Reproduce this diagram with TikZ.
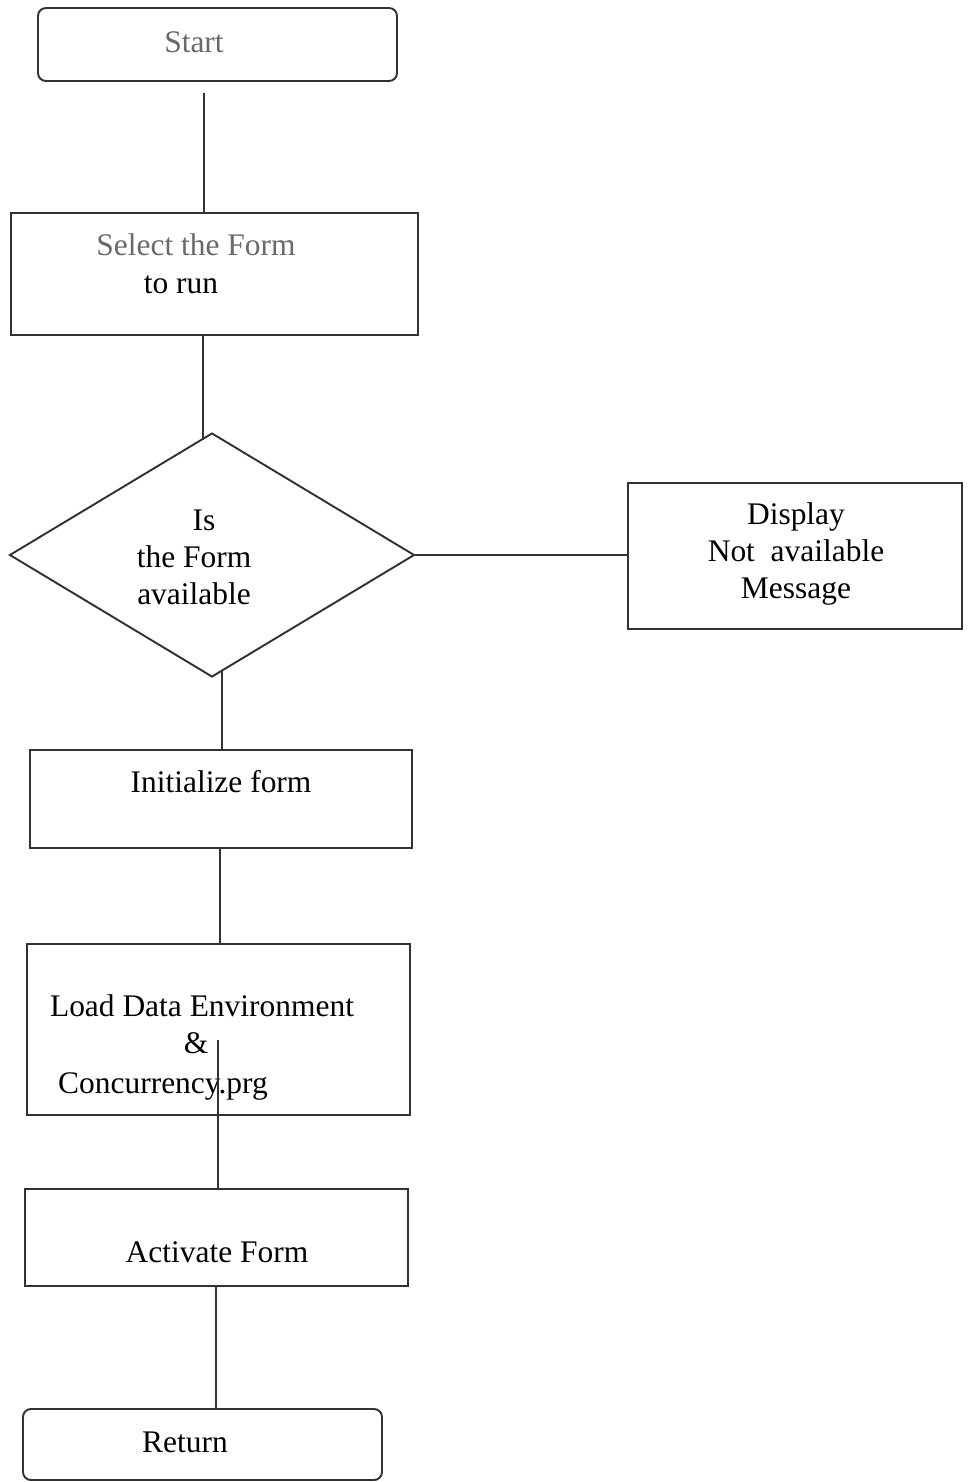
\documentclass[tikz,border=0pt]{standalone}
\usepackage{fontspec}
\setmainfont{Liberation Serif}
\usetikzlibrary{fit,shapes.geometric}
\definecolor{ink}{RGB}{50,50,50}
\definecolor{soft}{RGB}{105,105,105}
\begin{document}
\begin{tikzpicture}[x=0.02cm,y=-0.02cm,
  box/.style={draw=ink,line width=1.1pt,inner sep=0pt},
  term/.style={box,rounded corners=0.16cm},
  lbl/.style={anchor=base,inner sep=0pt,font=\fontsize{17.9pt}{21pt}\selectfont,text=black},
  flow/.style={draw=ink,line width=1.1pt}]
\useasboundingbox (0,0) rectangle (969,1482);

% boxes
\node[term,fit={(38,8) (397,81)}] (start) {};
\node[box,fit={(11,213) (418,335)}] (sel) {};
\node[draw=ink,line width=1.1pt,diamond,inner sep=0pt,
      minimum width=8.1cm,minimum height=4.88cm] (avail) at (212,555) {};
\node[box,fit={(628,483) (962,629)}] (msg) {};
\node[box,fit={(30,750) (412,848)}] (init) {};
\node[box,fit={(27,944) (410,1115)}] (load) {};
\node[box,fit={(25,1189) (408,1286)}] (act) {};
\node[term,fit={(23,1409) (382,1480)}] (ret) {};

% labels
\node[lbl,text=soft] (tstart) at (194,52) {Start};
\node[lbl,text=soft] (tsel1) at (196,255) {Select the Form};
\node[lbl] (tsel2) at (181,293) {to run};
\node[lbl] (tav1) at (204,530) {Is};
\node[lbl] (tav2) at (194,567) {the Form};
\node[lbl] (tav3) at (194,604) {available};
\node[lbl] (tmsg1) at (796,524) {Display};
\node[lbl] (tmsg2) at (796,561) {Not\ \ available};
\node[lbl] (tmsg3) at (796,598) {Message};
\node[lbl] (tinit) at (221,792) {Initialize form};
\node[lbl] (tload1) at (202,1016) {Load Data Environment};
\node[lbl] (tload2) at (196,1053) {\&};
\node[lbl] (tload3) at (163,1093) {Concurrency.prg};
\node[lbl] (tact) at (217,1262) {Activate Form};
\node[lbl] (tret) at (185,1452) {Return};

% connectors
\coordinate (loadin) at (218,1040);
\coordinate (avout) at (222,670);
\draw[flow,shorten <=0.22cm] (204,0 |- start.south) -- (204,0 |- sel.north);
\draw[flow] (203,0 |- sel.south) -- (203,440);
\draw[flow] (avail.east) -- (avail.east -| msg.west);
\draw[flow] (avout) -- (avout |- init.north);
\draw[flow] (220,0 |- init.south) -- (220,0 |- load.north);
\draw[flow] (loadin) -- (loadin |- act.north);
\draw[flow] (216,0 |- act.south) -- (216,0 |- ret.north);
\end{tikzpicture}
\end{document}
